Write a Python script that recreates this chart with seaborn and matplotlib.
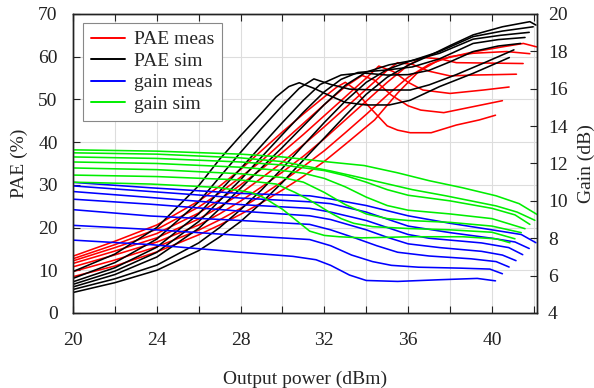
import matplotlib
matplotlib.use("Agg")
import matplotlib.pyplot as plt
import seaborn as sns
import pandas as pd
from matplotlib.lines import Line2D

# ---------------- data ----------------
# PAE measured (red), 7 curves
pae_meas_x = [
    [20, 22, 24, 26, 27, 28, 29, 30, 31, 32, 32.6, 33.0, 33.4, 34.0, 35.0, 35.5, 36.1, 37.1, 38.3, 39.4, 40.17],
    [20, 22, 24, 26, 27, 28, 29, 30, 31, 32, 33, 33.8, 34.4, 35.2, 36.0, 36.6, 37.7, 39.1, 40.5],
    [20, 22, 24, 26, 27, 28, 29, 30, 31, 32, 33, 34, 34.6, 35.3, 36.0, 36.7, 38.0, 39.6, 40.82],
    [20, 22, 24, 26, 27, 28, 29, 30, 31, 32, 33, 34, 35, 35.5, 36.2, 37.0, 38.0, 39.1, 40.2, 41.17],
    [20, 22, 24, 26, 27, 28, 29, 30, 31, 32, 33, 34, 35, 36, 36.7, 37.5, 38.3, 39.9, 41.49],
    [20, 22, 24, 26, 27, 28, 29, 30, 31, 32, 33, 34, 35, 36, 37, 38, 39.1, 40.7, 41.81],
    [20, 22, 24, 26, 27, 28, 29, 30, 31, 32, 33, 34.4, 35.5, 36.5, 37.5, 39.0, 40.5, 41.5, 42.13],
]
pae_meas_y = [
    [13.3, 16.8, 20.6, 26.2, 29.7, 33.6, 38.0, 42.4, 46.6, 50.6, 52.9, 54.0, 52.6, 49.0, 43.8, 42.8, 42.2, 42.2, 44.0, 45.2, 46.3],
    [12.7, 16.0, 19.6, 24.8, 28.1, 31.8, 35.6, 40.0, 44.4, 48.8, 53.0, 55.6, 54.5, 51.0, 48.5, 47.5, 46.9, 48.3, 49.7],
    [12.2, 15.3, 18.6, 23.4, 26.5, 30.0, 33.7, 37.6, 41.8, 46.2, 50.6, 55.0, 57.8, 56.5, 54.0, 52.2, 51.4, 52.2, 52.9],
    [11.6, 14.5, 17.6, 22.0, 24.8, 28.0, 31.6, 35.3, 39.4, 43.6, 48.0, 52.4, 56.8, 58.6, 58.2, 56.6, 55.5, 55.7, 55.8, 55.9],
    [10.8, 13.6, 16.6, 20.6, 23.2, 26.2, 29.5, 33.0, 36.7, 40.8, 45.2, 49.6, 54.0, 58.0, 59.8, 59.5, 58.6, 58.5, 58.4],
    [9.7, 12.4, 15.5, 19.4, 21.8, 24.5, 27.5, 30.8, 34.3, 38.0, 42.2, 46.5, 51.0, 55.2, 58.2, 60.0, 60.8, 61.2, 60.7],
    [8.5, 11.0, 14.3, 18.3, 20.6, 23.1, 25.8, 28.8, 32.0, 35.5, 39.5, 45.2, 51.5, 56.5, 59.3, 61.0, 62.3, 63.1, 62.3],
]

# PAE simulated (black), 7 curves
pae_sim_x = [
    [20, 22, 24, 26, 27, 28, 29, 29.7, 30.3, 30.8, 31.5, 32.2, 33.0, 34.0, 35.1, 36.1, 37.5, 39.1, 40.83],
    [20, 22, 24, 26, 27, 28, 29, 30, 30.8, 31.5, 32.3, 33.2, 34.5, 36.1, 37.0, 38.3, 39.6, 41.05],
    [20, 22, 24, 26, 27, 28, 29, 30, 31, 31.8, 32.8, 33.8, 35.0, 36.0, 37.0, 38.0, 39.1, 40.3, 41.37],
    [20, 22, 24, 26, 27, 28, 29, 30, 31, 32, 32.8, 33.6, 35.0, 36.2, 37.5, 39.1, 40.3, 41.58],
    [20, 22, 24, 26, 27, 28, 29, 30, 31, 32, 33, 34, 35.1, 36.3, 37.5, 39.1, 40.4, 41.78],
    [20, 22, 24, 26, 27, 28, 29, 30, 31, 32, 33, 34, 35, 36, 37.5, 39.1, 40.5, 41.97],
    [20, 22, 24, 26, 27, 28, 29, 30, 31, 32, 33, 34, 35, 36, 37, 38, 39.1, 40.5, 41.81, 42.1],
]
pae_sim_y = [
    [9.7, 13.8, 20.0, 29.8, 36.0, 41.5, 46.8, 50.6, 53.0, 53.9, 52.6, 51.0, 49.3, 48.7, 48.7, 49.8, 53.0, 56.1, 59.8],
    [8.1, 11.8, 17.3, 26.0, 31.8, 37.6, 43.2, 48.6, 52.6, 54.8, 53.5, 52.4, 52.2, 52.2, 53.4, 55.8, 58.5, 61.6],
    [7.3, 10.6, 15.4, 23.2, 28.5, 33.8, 39.2, 44.6, 49.8, 53.5, 55.7, 56.2, 55.7, 55.8, 56.8, 58.8, 61.2, 62.5, 63.1],
    [6.7, 9.8, 14.2, 21.4, 26.3, 31.2, 36.5, 41.8, 47.0, 51.8, 54.7, 56.3, 56.9, 57.6, 59.5, 63.1, 64.0, 64.5],
    [6.1, 9.0, 13.1, 19.8, 24.4, 29.2, 34.0, 38.8, 43.8, 48.8, 53.3, 56.4, 58.1, 59.2, 60.8, 64.1, 65.0, 65.7],
    [5.5, 8.0, 11.2, 16.4, 20.0, 24.2, 28.8, 33.9, 39.3, 44.6, 49.6, 54.0, 57.0, 58.8, 61.2, 64.7, 66.0, 67.0],
    [4.8, 7.1, 10.0, 14.6, 17.8, 21.4, 25.8, 30.6, 35.8, 41.0, 46.2, 51.2, 55.2, 58.0, 60.2, 62.6, 65.1, 67.0, 68.2, 67.4],
]

# Gain measured (blue), 7 curves
gain_meas_x = [
    [20, 23.7, 28, 30.5, 31.6, 32.3, 33.2, 34.0, 35.5, 37.5, 39.3, 40.17],
    [20, 23.7, 28, 31.3, 32.3, 33.3, 34.3, 35.2, 36.5, 38.5, 39.9, 40.5],
    [20, 23.7, 28, 31.3, 32.3, 33.5, 34.5, 35.5, 37, 39, 40.2, 40.82],
    [20, 23.7, 28, 31.3, 32.3, 34, 35, 36, 37.5, 39.5, 40.5, 41.15],
    [20, 23.7, 28, 31.3, 32.3, 34, 36, 37, 39.5, 40.8, 41.47],
    [20, 23.7, 28, 31.3, 32.3, 34, 36, 38, 40, 41.1, 41.78],
    [20, 23.7, 28, 31.3, 32.3, 34, 36, 38, 40, 41.4, 42.1],
]
gain_meas_y = [
    [7.9, 7.66, 7.25, 7.03, 6.85, 6.55, 6.03, 5.74, 5.69, 5.78, 5.85, 5.72],
    [8.69, 8.47, 8.15, 7.93, 7.6, 7.1, 6.75, 6.55, 6.45, 6.4, 6.35, 6.1],
    [9.53, 9.19, 8.95, 8.74, 8.45, 8.0, 7.6, 7.25, 7.05, 6.9, 6.75, 6.46],
    [10.09, 9.82, 9.45, 9.2, 9.0, 8.45, 8.05, 7.7, 7.5, 7.3, 7.1, 6.8],
    [10.5, 10.18, 9.8, 9.6, 9.4, 8.95, 8.2, 8.0, 7.75, 7.5, 7.12],
    [10.8, 10.5, 10.15, 9.95, 9.85, 9.4, 8.65, 8.3, 8.0, 7.8, 7.45],
    [10.99, 10.7, 10.4, 10.27, 10.1, 9.75, 9.2, 8.8, 8.45, 8.2, 7.76],
]

# Gain simulated (green), 7 curves
gain_sim_x = [
    [20, 23.7, 26.9, 28.5, 29.1, 30.0, 30.7, 31.3, 32.0, 32.7, 33.8, 36.2, 38.6, 40.2, 40.86],
    [20, 24, 28, 29.7, 30.6, 31.2, 31.8, 32.3, 32.8, 33.4, 34.3, 36, 38, 40, 41.1],
    [20, 24, 28, 30, 31, 32, 33, 34, 35, 36, 38, 40, 41.4],
    [20, 24, 28, 30, 31, 32, 33, 34, 35, 36, 38, 40, 41.58],
    [20, 24, 28, 30, 32, 33, 34, 35, 36, 38, 40, 41.1, 41.81],
    [20, 24, 28, 30, 32.3, 33.5, 34.7, 36.2, 37.8, 39, 40.2, 41.2, 42.05],
    [20, 24, 28, 30, 32.3, 33.9, 35.5, 37.0, 38.6, 40.2, 41.3, 42.2],
]
gain_sim_y = [
    [11.0, 10.9, 10.72, 10.45, 10.18, 9.55, 8.92, 8.38, 8.15, 8.08, 8.02, 8.08, 8.08, 7.97, 7.76],
    [11.38, 11.3, 11.12, 10.9, 10.45, 10.1, 9.7, 9.35, 9.05, 8.8, 8.62, 8.52, 8.45, 8.32, 7.97],
    [11.76, 11.67, 11.45, 11.25, 11.0, 10.45, 9.8, 9.3, 9.05, 8.95, 8.85, 8.65, 8.3],
    [12.08, 12.0, 11.8, 11.62, 11.48, 11.2, 10.75, 10.2, 9.75, 9.5, 9.3, 9.05, 8.51],
    [12.35, 12.27, 12.08, 11.92, 11.62, 11.35, 11.0, 10.6, 10.3, 10.0, 9.6, 9.25, 8.74],
    [12.57, 12.5, 12.3, 12.1, 11.6, 11.3, 10.99, 10.6, 10.27, 10.0, 9.73, 9.4, 8.96],
    [12.73, 12.66, 12.5, 12.35, 12.07, 11.89, 11.5, 11.08, 10.7, 10.27, 9.85, 9.24],
]

legend_labels = ["PAE meas", "PAE sim", "gain meas", "gain sim"]
colors = {"PAE meas": "#ff0000", "PAE sim": "#000000", "gain meas": "#0000ff", "gain sim": "#00ee00"}


def to_long(xs, ys, kind):
    rows = []
    for i, (cx, cy) in enumerate(zip(xs, ys)):
        for j, (a, b) in enumerate(zip(cx, cy)):
            rows.append({"pout": a, "val": b, "curve": f"{kind}{i}", "kind": kind, "order": j})
    return pd.DataFrame(rows)


df_pae = pd.concat([to_long(pae_meas_x, pae_meas_y, "PAE meas"),
                    to_long(pae_sim_x, pae_sim_y, "PAE sim")], ignore_index=True)
df_gain = pd.concat([to_long(gain_meas_x, gain_meas_y, "gain meas"),
                     to_long(gain_sim_x, gain_sim_y, "gain sim")], ignore_index=True)

# ---------------- style ----------------
sns.set_theme(style="white")
plt.rcParams["font.family"] = ["Liberation Serif", "DejaVu Serif"]
FS = 14

fig = plt.figure(figsize=(5.94, 3.88), dpi=100)
ax = fig.add_axes([0.1229, 0.1933, 0.7811, 0.7707])
ax2 = ax.twinx()

sns.lineplot(data=df_pae, x="pout", y="val", hue="kind", units="curve", estimator=None,
             sort=False, palette=colors, legend=False, ax=ax, linewidth=1.15)
sns.lineplot(data=df_gain, x="pout", y="val", hue="kind", units="curve", estimator=None,
             sort=False, palette=colors, legend=False, ax=ax2, linewidth=1.15)

ax.set_xlim(20, 42.15)
ax.set_ylim(0, 70)
ax2.set_ylim(4, 20)
ax.set_xticks(range(20, 43, 2))
ax.set_xticklabels([str(v) if v % 4 == 0 else "" for v in range(20, 43, 2)])
ax.set_yticks(range(0, 71, 10))
ax2.set_yticks(range(4, 21, 2))

ax.grid(True, color="#dddddd", linewidth=0.8)
ax.set_axisbelow(True)
ax2.grid(False)

ax.tick_params(axis="y", direction="in", length=5, width=0.8, labelsize=FS,
               left=True, right=False, colors="#222222", pad=11)
ax.tick_params(axis="x", direction="in", length=5, width=0.8, labelsize=FS,
               top=True, bottom=True, colors="#222222", pad=14)
ax2.tick_params(axis="y", direction="in", length=5, width=0.8, labelsize=FS,
                right=True, left=False, colors="#222222", pad=8)

for sp in list(ax.spines.values()) + list(ax2.spines.values()):
    sp.set_color("#222222")
    sp.set_linewidth(1.0)

ax.set_xlabel("Output power (dBm)", fontsize=FS, labelpad=15)
ax.set_ylabel("PAE (%)", fontsize=FS, labelpad=7)
ax2.set_ylabel("Gain (dB)", fontsize=FS, labelpad=7)

handles = [Line2D([0], [0], color=colors[k], linewidth=1.4) for k in legend_labels]
leg = ax2.legend(handles, legend_labels, loc="upper left", bbox_to_anchor=(0.0216, 0.97),
                 borderaxespad=0.0, fontsize=FS, frameon=True, fancybox=False,
                 edgecolor="#888888", framealpha=1.0, handlelength=1.75,
                 handletextpad=0.45, borderpad=0.4, labelspacing=0.2)
leg.get_frame().set_linewidth(0.8)

fig.savefig("out.png", dpi=100)
